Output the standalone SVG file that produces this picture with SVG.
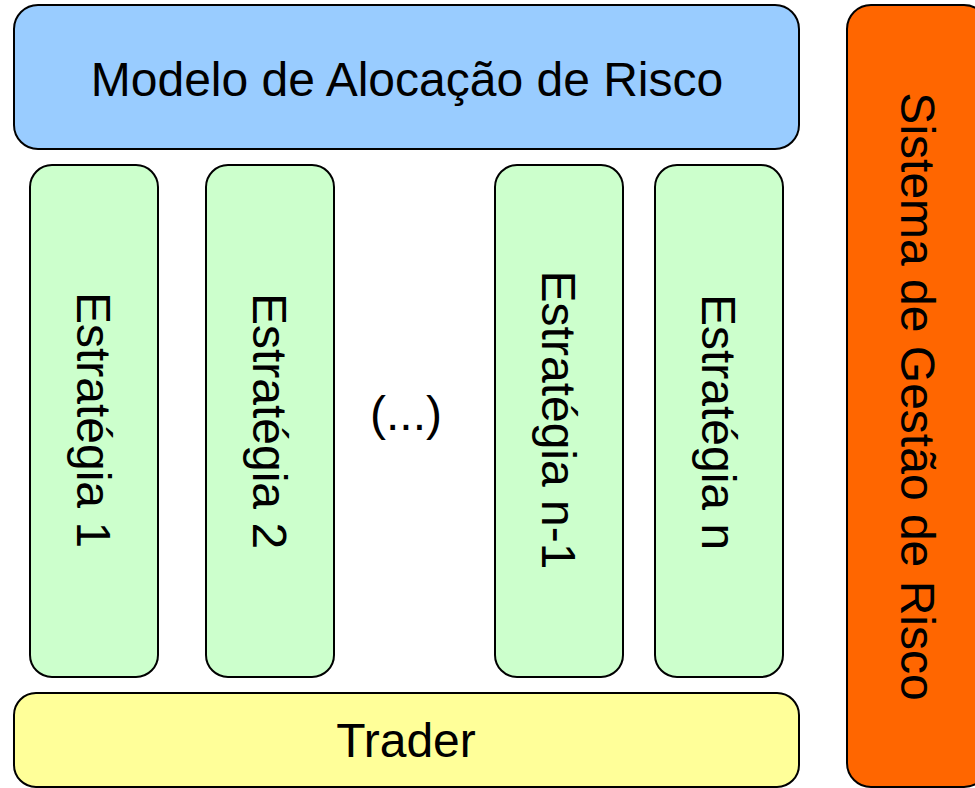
<svg xmlns="http://www.w3.org/2000/svg" width="975" height="788" viewBox="0 0 975 788">
<style>
.box{stroke:#000;stroke-width:2}
.t{font-family:"Liberation Sans",Arial,sans-serif;font-size:48px;fill:#000;text-anchor:middle}
</style>
<rect width="975" height="788" fill="#fff"/>
<g id="modelo">
<rect class="box" x="14" y="5" width="785" height="144" rx="24" fill="#99CCFF"/>
<text class="t" x="407" y="96">Modelo de Alocação de Risco</text>
</g>
<g id="estrategia1">
<rect class="box" x="30" y="165" width="128" height="512" rx="22" fill="#CCFFCC"/>
<text class="t" transform="translate(94,420) rotate(90)" y="17">Estratégia 1</text>
</g>
<g id="estrategia2">
<rect class="box" x="206" y="165" width="128" height="512" rx="22" fill="#CCFFCC"/>
<text class="t" transform="translate(270,421) rotate(90)" y="17">Estratégia 2</text>
</g>
<g id="reticencias">
<text class="t" x="406" y="430">(...)</text>
</g>
<g id="estrategian1">
<rect class="box" x="495" y="165" width="128" height="512" rx="22" fill="#CCFFCC"/>
<text class="t" transform="translate(559,420) rotate(90)" y="17">Estratégia n-1</text>
</g>
<g id="estrategian">
<rect class="box" x="655" y="165" width="128" height="512" rx="22" fill="#CCFFCC"/>
<text class="t" transform="translate(719,422) rotate(90)" y="17">Estratégia n</text>
</g>
<g id="trader">
<rect class="box" x="14" y="693" width="785" height="94" rx="22" fill="#FFFF99"/>
<text class="t" x="406" y="757">Trader</text>
</g>
<g id="sistema">
<rect class="box" x="847" y="5" width="141" height="782" rx="24" fill="#FF6600"/>
<text class="t" transform="translate(917.5,396.5) rotate(90)" y="17">Sistema de Gestão de Risco</text>
</g>
<g id="connectors"></g>
</svg>
